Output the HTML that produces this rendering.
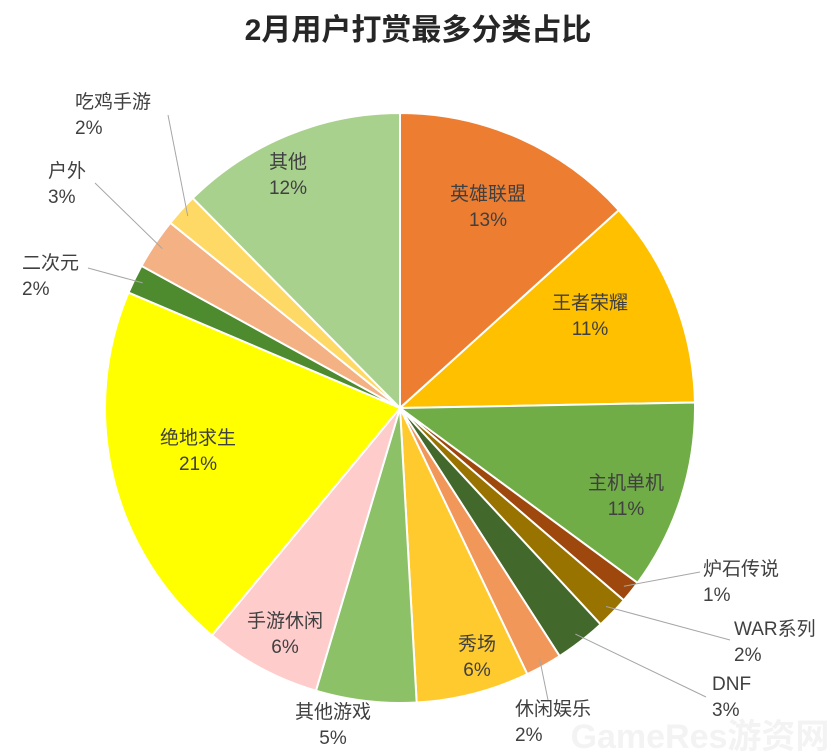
<!DOCTYPE html>
<html><head><meta charset="utf-8">
<style>
body{margin:0;background:#fff;}
svg{display:block;font-family:"Liberation Sans","Noto Sans CJK SC",sans-serif;}
</style></head>
<body>
<svg id="chart" width="836" height="754" viewBox="0 0 836 754">
<text x="418" y="40" text-anchor="middle" font-size="30" font-weight="bold" fill="#262626">2月用户打赏最多分类占比</text>
<g id="slices"></g>
<g id="leaders"></g>
<g id="labels"></g>
<text x="700" y="748" text-anchor="middle" font-size="34" font-weight="bold" fill="#eeeeee" opacity="0.7">GameRes游资网</text>
</svg>
<script>
const categories=["英雄联盟","王者荣耀","主机单机","炉石传说","WAR系列","DNF","休闲娱乐","秀场","其他游戏","手游休闲","绝地求生","二次元","户外","吃鸡手游","其他"];
const values=[13.3,11.4,10.4,1.2,1.8,2.8,2.0,6.2,5.5,6.4,20.4,1.6,2.8,1.8,12.4];
const pctLabels=["13%","11%","11%","1%","2%","3%","2%","6%","5%","6%","21%","2%","3%","2%","12%"];
const colors=["#ED7D31","#FFC000","#70AD47","#9E480E","#997300","#43682B","#F1975A","#FFCA2E","#8CC168","#FFCCCC","#FFFF00","#4E8B2F","#F4B183","#FFD966","#A9D18E"];
// label layout: [x, y, anchor, leaderEnd or null]
const layout=[[488,200,"middle",null],[590,309,"middle",null],[626,489,"middle",null],
[703,575,"start",[700,572]],[734,635,"start",[730,640]],[712,690,"start",[706,697]],
[515,715,"start",[548,700]],[477,650,"middle",null],[333,718,"middle",null],[285,627,"middle",null],
[198,444,"middle",null],[22,269,"start",[88,268]],[48,177,"start",[95,183]],[75,108,"start",[168,115]],[288,168,"middle",null]];
const cx=400,cy=408,r=295;
const NS="http://www.w3.org/2000/svg";
const total=values.reduce((a,b)=>a+b,0);
function pt(frac,rad){const a=frac*2*Math.PI;return [cx+rad*Math.sin(a),cy-rad*Math.cos(a)];}
let cum=0;
const gS=document.getElementById('slices'),gL=document.getElementById('leaders'),gT=document.getElementById('labels');
values.forEach((v,i)=>{
  const s=cum/total,e=(cum+v)/total;cum+=v;
  const p0=pt(s,r),p1=pt(e,r);
  const path=document.createElementNS(NS,'path');
  path.setAttribute('d',`M${cx},${cy}L${p0[0]},${p0[1]}A${r},${r} 0 ${e-s>0.5?1:0} 1 ${p1[0]},${p1[1]}Z`);
  path.setAttribute('fill',colors[i]);path.setAttribute('stroke','#fff');path.setAttribute('stroke-width','2');
  
  
  gS.appendChild(path);
  const L=layout[i];
  if(L[3]){
    const m=pt((s+e)/2,r*0.97);
    const ln=document.createElementNS(NS,'polyline');
    ln.setAttribute('points',`${m[0]},${m[1]} ${L[3][0]},${L[3][1]}`);
    ln.setAttribute('stroke','#a6a6a6');ln.setAttribute('fill','none');ln.setAttribute('stroke-width','1');
    
    
    gL.appendChild(ln);
  }
  const t=document.createElementNS(NS,'text');
  t.setAttribute('x',L[0]);t.setAttribute('y',L[1]);t.setAttribute('text-anchor',L[2]);
  t.setAttribute('font-size','19');t.setAttribute('fill','#404040');
  
  
  const a=document.createElementNS(NS,'tspan');a.setAttribute('x',L[0]);a.textContent=categories[i];
  const b=document.createElementNS(NS,'tspan');b.setAttribute('x',L[0]);b.setAttribute('dy','26');b.textContent=pctLabels[i];
  t.appendChild(a);t.appendChild(b);gT.appendChild(t);
});
</script>
</body></html>
